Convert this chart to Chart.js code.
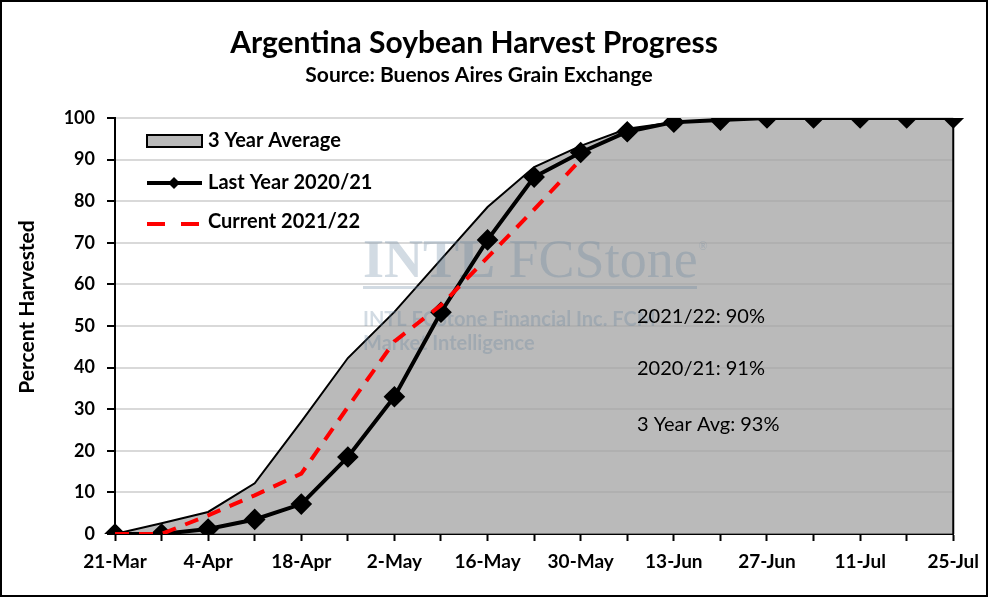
<!DOCTYPE html>
<html>
<head>
<meta charset="utf-8">
<script src="https://cdn.jsdelivr.net/npm/chart.js@4.4.1/dist/chart.umd.min.js"></script>
<style>
  html, body { margin: 0; padding: 0; background: #fff; }
  #wrap { width: 988px; height: 597px; position: relative; }
</style>
</head>
<body>
<div id="wrap"><canvas id="c"></canvas></div>
<script>
// weekly report dates, labels shown every second week
const weeks = ['21-Mar', '28-Mar', '4-Apr', '11-Apr', '18-Apr', '25-Apr', '2-May', '9-May', '16-May',
  '23-May', '30-May', '6-Jun', '13-Jun', '20-Jun', '27-Jun', '4-Jul', '11-Jul', '18-Jul', '25-Jul']
const avg3Year = [0, 2.6, 5.3, 12.2, 27, 42.3, 53.4, 66, 78.6, 88.2, 93.3, 97.4, 99, 99.6, 100, 100, 100, 100, 100]
const lastYear = [0, 0, 1.2, 3.5, 7.2, 18.5, 33, 53.3, 70.7, 85.8, 91.7, 96.7, 99, 99.5, 100, 100, 100, 100, 100]
const current = [0, 0, 4.5, 9.3, 14.5, 30.5, 46.3, 55, 66.5, 78, 90]
const yTicks = [0, 10, 20, 30, 40, 50, 60, 70, 80, 90, 100]
const notes = ['2021/22: 90%', '2020/21: 91%', '3 Year Avg: 93%']

const FONT = 'Lato, "Open Sans", sans-serif'
const AREA_FILL = 'rgba(162, 162, 162, 0.74)'

// title, legend, notes, watermark and frame drawn straight on the canvas
const decor = {
  id: 'decor',
  afterDatasetDraw(chart, args) {
    if (args.meta.label !== '3 Year Average') return
    const ctx = chart.ctx
    const x0 = 363
    ctx.save()
    ctx.textBaseline = 'alphabetic'
    ctx.fillStyle = 'rgba(95, 125, 155, 0.28)'
    ctx.font = 'bold 54px "Liberation Serif", serif'
    ctx.fillText('INTL', x0, 277)
    const w = ctx.measureText('INTL ').width
    ctx.font = '54px "Liberation Serif", serif'
    ctx.fillText('FCStone', x0 + w, 277)
    const w2 = ctx.measureText('FCStone').width
    ctx.font = '12px "Liberation Serif", serif'
    ctx.fillText('®', x0 + w + w2 + 1, 250)
    ctx.font = 'bold 20px ' + FONT
    ctx.fillText('INTL FCStone Financial Inc. FCM', x0, 326)
    ctx.fillText('Market Intelligence', x0, 350)
    ctx.fillRect(x0, 286, 334, 3)
    ctx.restore()
  },
  afterDraw(chart) {
    const ctx = chart.ctx
    const { x, y } = chart.scales
    ctx.save()
    // right edge of the average area
    const xr = x.getPixelForValue(weeks.length - 1)
    ctx.strokeStyle = '#000'
    ctx.lineWidth = 2
    ctx.beginPath()
    ctx.moveTo(xr, y.getPixelForValue(avg3Year[avg3Year.length - 1]))
    ctx.lineTo(xr, y.getPixelForValue(0))
    ctx.stroke()

    ctx.fillStyle = '#000'
    ctx.textAlign = 'center'
    ctx.textBaseline = 'middle'
    ctx.font = 'bold 30px ' + FONT
    ctx.fillText('Argentina Soybean Harvest Progress', 474, 43)
    ctx.font = 'bold 21px ' + FONT
    ctx.fillText('Source: Buenos Aires Grain Exchange', 479, 75)

    // y axis title
    ctx.save()
    ctx.translate(27, 307)
    ctx.rotate(-Math.PI / 2)
    ctx.font = 'bold 21px ' + FONT
    ctx.fillText('Percent Harvested', 0, 0)
    ctx.restore()

    // legend
    ctx.textAlign = 'left'
    ctx.font = 'bold 20px ' + FONT
    const lx = 147, lw = 55, tx = 208
    ctx.fillStyle = AREA_FILL
    ctx.fillRect(lx, 135, lw, 12)
    ctx.lineWidth = 2
    ctx.strokeRect(lx, 135, lw, 12)
    ctx.fillStyle = '#000'
    ctx.fillText(chart.data.datasets[2].label, tx, 141)

    ctx.lineWidth = 4
    ctx.beginPath()
    ctx.moveTo(lx, 183)
    ctx.lineTo(lx + lw, 183)
    ctx.stroke()
    ctx.beginPath()
    ctx.moveTo(174, 177); ctx.lineTo(180, 183); ctx.lineTo(174, 189); ctx.lineTo(168, 183)
    ctx.closePath()
    ctx.fill()
    ctx.fillText(chart.data.datasets[1].label, tx, 183)

    ctx.strokeStyle = '#ff0000'
    ctx.lineWidth = 4
    ctx.setLineDash([18, 16])
    ctx.beginPath()
    ctx.moveTo(lx, 224)
    ctx.lineTo(lx + lw, 224)
    ctx.stroke()
    ctx.setLineDash([])
    ctx.fillText(chart.data.datasets[0].label, tx, 222)

    // notes
    ctx.font = '20px ' + FONT
    ctx.fillText(notes[0], 637, 317)
    ctx.fillText(notes[1], 637, 369)
    ctx.fillText(notes[2], 637, 425)

    // outer frame
    ctx.lineWidth = 2
    ctx.strokeStyle = '#000'
    ctx.strokeRect(1, 1, chart.width - 2, chart.height - 2)
    ctx.restore()
  }
}

new Chart(document.getElementById('c'), {
  type: 'line',
  data: {
    labels: weeks,
    datasets: [
      {
        label: 'Current 2021/22',
        data: current,
        borderColor: '#ff0000',
        borderWidth: 4,
        borderDash: [14, 10],
        pointRadius: 0,
        fill: false,
        order: 0
      },
      {
        label: 'Last Year 2020/21',
        data: lastYear,
        borderColor: '#000',
        borderWidth: 4,
        pointStyle: 'rectRot',
        pointRadius: 8,
        pointBackgroundColor: '#000',
        pointBorderColor: '#000',
        fill: false,
        order: 1
      },
      {
        label: '3 Year Average',
        data: avg3Year,
        borderColor: '#000',
        borderWidth: 2,
        backgroundColor: AREA_FILL,
        pointRadius: 0,
        fill: 'origin',
        order: 2
      }
    ]
  },
  options: {
    responsive: true,
    maintainAspectRatio: false,
    animation: false,
    layout: { padding: { left: 0, right: 31, top: 118, bottom: 0 } },
    plugins: {
      legend: { display: false },
      title: { display: false },
      tooltip: { enabled: false }
    },
    scales: {
      x: {
        offset: false,
        afterFit: s => { s.height = 63 },
        grid: { drawOnChartArea: false, tickLength: 7, tickColor: '#000', tickWidth: 2 },
        border: { color: '#000', width: 2 },
        ticks: {
          autoSkip: false,
          maxRotation: 0,
          padding: 9,
          color: '#000',
          font: { family: FONT, size: 19, weight: 'bold' },
          callback: (v, i) => (i % 2 === 0 ? weeks[i] : '')
        }
      },
      y: {
        min: yTicks[0],
        max: yTicks[yTicks.length - 1],
        afterFit: s => { s.width = 115 },
        afterBuildTicks: s => { s.ticks = yTicks.map(v => ({ value: v })) },
        grid: { color: '#d9d9d9', lineWidth: 2, tickLength: 8, tickColor: '#000', tickWidth: 2 },
        border: { color: '#000', width: 2 },
        ticks: {
          padding: 12,
          color: '#000',
          font: { family: FONT, size: 18, weight: 'bold' }
        }
      }
    }
  },
  plugins: [decor]
})
</script>
</body>
</html>
